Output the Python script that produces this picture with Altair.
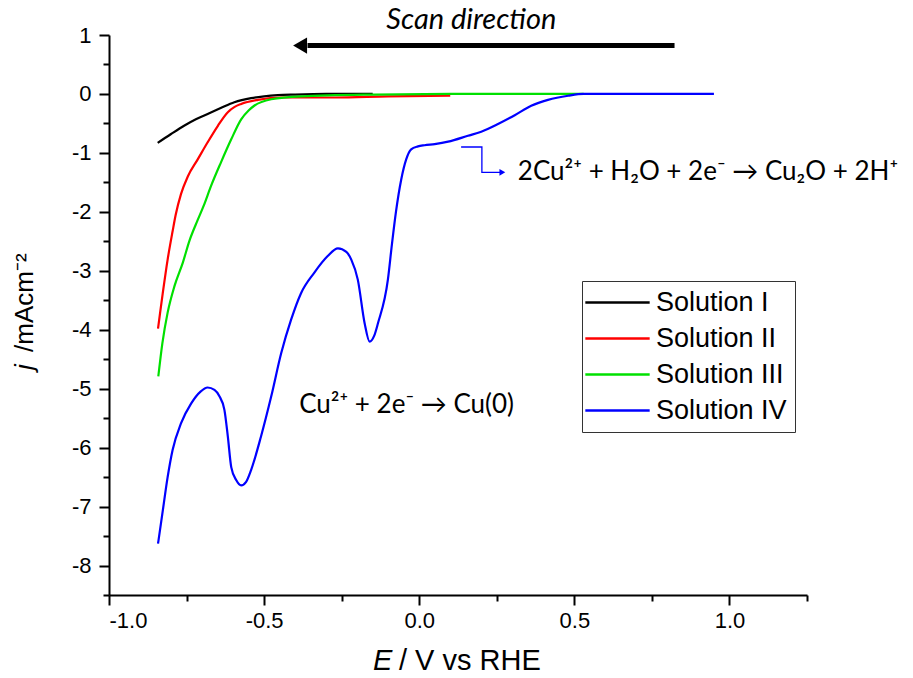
import altair as alt
import pandas as pd

# ---- data ----
series_names = ["Solution I", "Solution II", "Solution III", "Solution IV"]
series_colors = ["#000000", "#FF0000", "#00E000", "#0000FF"]

x_I = [-0.843, -0.80, -0.758, -0.72, -0.682, -0.64, -0.596, -0.542, -0.50, -0.456, -0.40, -0.30, -0.15]
y_I = [-0.83, -0.68, -0.54, -0.43, -0.34, -0.24, -0.14, -0.07, -0.04, -0.02, -0.01, 0.0, 0.0]

x_II = [-0.842, -0.835, -0.828, -0.811, -0.795, -0.785, -0.768, -0.746, -0.714, -0.682, -0.649,
        -0.617, -0.595, -0.574, -0.52, -0.445, -0.27, -0.10, 0.10]
y_II = [-3.98, -3.70, -3.43, -2.81, -2.33, -2.05, -1.70, -1.40, -1.11, -0.82, -0.54,
        -0.31, -0.22, -0.17, -0.10, -0.06, -0.06, -0.04, -0.03]

x_III = [-0.841, -0.828, -0.811, -0.789, -0.762, -0.74, -0.715, -0.695, -0.671, -0.639, -0.606,
         -0.574, -0.55, -0.532, -0.477, -0.38, -0.145, 0.10, 0.53]
y_III = [-4.79, -4.23, -3.71, -3.26, -2.86, -2.48, -2.15, -1.90, -1.56, -1.16, -0.77,
         -0.43, -0.28, -0.20, -0.09, -0.04, -0.01, 0.0, 0.0]

x_IV = [-0.842, -0.828, -0.811, -0.795, -0.768, -0.735, -0.705, -0.682, -0.660, -0.645, -0.628,
        -0.617, -0.606, -0.590, -0.574, -0.558, -0.542, -0.510, -0.477, -0.445, -0.413, -0.381,
        -0.338, -0.295, -0.262, -0.235, -0.219, -0.198, -0.176, -0.160, -0.145, -0.133, -0.101,
        -0.088, -0.075, -0.058, -0.042, -0.026, -0.004, 0.017, 0.05, 0.093, 0.157, 0.20, 0.254,
        0.308, 0.361, 0.415, 0.48, 0.53, 0.70, 0.95]
y_IV = [-7.63, -7.12, -6.50, -6.04, -5.59, -5.25, -5.05, -4.98, -5.02, -5.12, -5.36,
        -5.81, -6.33, -6.55, -6.64, -6.58, -6.38, -5.81, -5.13, -4.40, -3.83, -3.38,
        -3.03, -2.75, -2.62, -2.68, -2.81, -3.15, -3.89, -4.20, -4.10, -3.89, -3.15,
        -2.55, -2.00, -1.45, -1.11, -0.94, -0.89, -0.87, -0.85, -0.81, -0.71, -0.64, -0.51,
        -0.36, -0.20, -0.10, -0.03, 0.0, 0.0, 0.0]

x_ticks = [-1.0, -0.75, -0.5, -0.25, 0.0, 0.25, 0.5, 0.75, 1.0, 1.25]

# annotations (data coordinates)
scan_text = ["Scan direction"]
scan_arrow_x = [0.823]
scan_arrow_x2 = [-0.36]
scan_arrow_head_x = [-0.384]
scan_arrow_y = [0.82]
scan_text_x = [0.168]
scan_text_y = [1.25]

cu_text = ["Cu²⁺ + 2e⁻ → Cu(0)"]
cu_text_x = [-0.387]
cu_text_y = [-5.28]

cu2o_text = ["2Cu²⁺ + H₂O + 2e⁻ → Cu₂O + 2H⁺"]
cu2o_text_x = [0.318]
cu2o_text_y = [-1.33]

elbow_x = [0.135, 0.202, 0.202, 0.262]
elbow_y = [-0.90, -0.90, -1.33, -1.33]
elbow_head_x = [0.268]
elbow_head_y = [-1.33]

# ---- build tables ----
rows = []
for name, xs, ys in zip(series_names, [x_I, x_II, x_III, x_IV], [y_I, y_II, y_III, y_IV]):
    for i, (a, b) in enumerate(zip(xs, ys)):
        rows.append({"series": name, "E": a, "j": b, "idx": i})
df = pd.DataFrame(rows)

xscale = alt.Scale(domain=[-1.0, 1.25], nice=False, zero=False)
yscale = alt.Scale(domain=[-8.5, 1.0], nice=False, zero=False)

xmajor = "abs(datum.value*2 - round(datum.value*2)) < 0.001"
ymajor = "abs(datum.value - round(datum.value)) < 0.001"

xaxis = alt.Axis(
    values=x_ticks,
    labelExpr=f"{xmajor} ? replace(format(datum.value, '.1f'), '\u2212', '-') : ''",
    tickSize={"condition": {"test": xmajor, "value": 10}, "value": 6},
    labelOverlap=False, labelPadding=5, labelFontSize=22, labelFont="Liberation Sans",
    title=None,
)
yaxis = alt.Axis(
    tickCount=19,
    labelExpr=f"{ymajor} ? replace(format(datum.value, '.0f'), '\u2212', '-') : ''",
    tickSize={"condition": {"test": ymajor, "value": 10}, "value": 6},
    labelOverlap=False, labelPadding=8, labelFontSize=22, labelFont="Liberation Sans",
    title=None,
)

lines = alt.Chart(df).mark_line(strokeWidth=2.2, interpolate="monotone").encode(
    x=alt.X("E:Q", scale=xscale, axis=xaxis),
    y=alt.Y("j:Q", scale=yscale, axis=yaxis),
    color=alt.Color(
        "series:N",
        scale=alt.Scale(domain=series_names, range=series_colors),
        legend=alt.Legend(
            title=None, orient="none", legendX=473, legendY=246,
            strokeColor="#333333", fillColor="white", padding=8,
            symbolType="M-3,0L3,0", symbolSize=460, symbolStrokeWidth=2.5,
            symbolOffset=14,
            labelFont="Liberation Sans", labelFontSize=27, labelColor="black",
            labelOffset=25, rowPadding=8,
        ),
    ),
    order="idx:Q",
)

# scan direction arrow
scan_df = pd.DataFrame({"x": scan_arrow_x, "x2": scan_arrow_x2, "y": scan_arrow_y,
                        "hx": scan_arrow_head_x})
scan_rule = alt.Chart(scan_df).mark_rule(color="black", strokeWidth=5).encode(
    x="x:Q", x2="x2:Q", y="y:Q")
scan_head = alt.Chart(scan_df).mark_point(shape="triangle-left", filled=True, color="black",
                                          size=260, opacity=1).encode(x="hx:Q", y="y:Q")
scan_lbl = alt.Chart(pd.DataFrame({"t": scan_text, "x": scan_text_x, "y": scan_text_y})).mark_text(
    font="Lato", fontSize=29, fontStyle="italic", color="black", align="center", baseline="middle"
).encode(x="x:Q", y="y:Q", text="t:N")

cu_lbl = alt.Chart(pd.DataFrame({"t": cu_text, "x": cu_text_x, "y": cu_text_y})).mark_text(
    font="Lato", fontSize=26, color="black", align="left", baseline="middle"
).encode(x="x:Q", y="y:Q", text="t:N")

cu2o_lbl = alt.Chart(pd.DataFrame({"t": cu2o_text, "x": cu2o_text_x, "y": cu2o_text_y})).mark_text(
    font="Lato", fontSize=26, color="black", align="left", baseline="middle"
).encode(x="x:Q", y="y:Q", text="t:N")

elbow_df = pd.DataFrame({"x": elbow_x, "y": elbow_y, "o": list(range(len(elbow_x)))})
elbow = alt.Chart(elbow_df).mark_line(color="#0000FF", strokeWidth=1.3).encode(
    x="x:Q", y="y:Q", order="o:Q")
elbow_head = alt.Chart(pd.DataFrame({"x": elbow_head_x, "y": elbow_head_y})).mark_point(
    shape="triangle-right", filled=True, color="#0000FF", size=45, opacity=1
).encode(x="x:Q", y="y:Q")

# axis titles with italic symbols
xt1 = alt.Chart(pd.DataFrame({"t": ["E"]})).mark_text(
    font="Liberation Sans", fontSize=29, fontStyle="italic", color="black", align="left", baseline="middle"
).encode(x=alt.value(264), y=alt.value(626), text="t:N")
xt2 = alt.Chart(pd.DataFrame({"t": ["/ V vs RHE"]})).mark_text(
    font="Liberation Sans", fontSize=29, color="black", align="left", baseline="middle"
).encode(x=alt.value(290), y=alt.value(626), text="t:N")
yt1 = alt.Chart(pd.DataFrame({"t": ["j"]})).mark_text(
    font="Liberation Sans", fontSize=26, fontStyle="italic", color="black", align="left",
    baseline="middle", angle=270
).encode(x=alt.value(-84), y=alt.value(335), text="t:N")
yt2 = alt.Chart(pd.DataFrame({"t": ["/mAcm⁻²"]})).mark_text(
    font="Liberation Sans", fontSize=26, color="black", align="left",
    baseline="middle", angle=270
).encode(x=alt.value(-84), y=alt.value(317), text="t:N")

chart = alt.layer(
    lines, scan_rule, scan_head, scan_lbl, cu_lbl, cu2o_lbl, elbow, elbow_head,
    xt1, xt2, yt1, yt2
).properties(
    width=698, height=560,
    padding={"left": 109, "top": 35, "right": 106, "bottom": 83},
    autosize=alt.AutoSizeParams(type="none"),
    background="white",
).configure_view(stroke=None).configure_axis(
    domainColor="black", domainWidth=2, tickColor="black", tickWidth=2,
    labelColor="black", grid=False,
)

chart.save("out.html", embed_options={"renderer": "svg", "actions": False})
